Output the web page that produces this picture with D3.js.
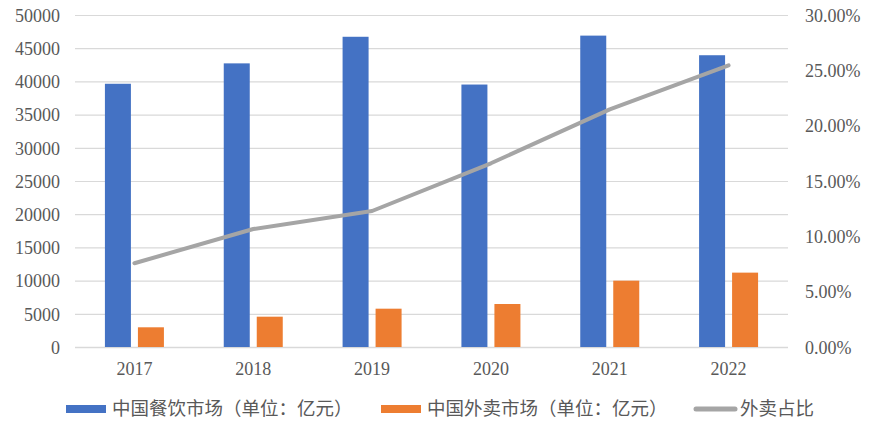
<!DOCTYPE html>
<html>
<head>
<meta charset="utf-8">
<script src="https://cdn.jsdelivr.net/npm/d3@7"></script>
<style>
  body { margin: 0; background: #fff; }
  svg { display: block; }
  .axis text { fill: #595959; font-size: 18px; font-family: "Liberation Serif", "Times New Roman", serif; }
  .legend text { fill: #595959; font-size: 18.5px; font-family: "Noto Sans CJK SC", sans-serif; }
</style>
</head>
<body>
<svg id="chart"></svg>
<script>
const years = ["2017", "2018", "2019", "2020", "2021", "2022"];
const cateringMarket = [39644, 42716, 46721, 39527, 46895, 43941];
const takeoutMarket = [2967, 4565, 5770, 6475, 9990, 11200];
const takeoutShare = [0.0757, 0.1066, 0.1229, 0.1660, 0.2147, 0.2545];
const leftTicks = [0, 5000, 10000, 15000, 20000, 25000, 30000, 35000, 40000, 45000, 50000];
const rightTicks = [0, 0.05, 0.10, 0.15, 0.20, 0.25, 0.30];
const seriesNames = ["中国餐饮市场（单位：亿元）", "中国外卖市场（单位：亿元）", "外卖占比"];

const W = 870, H = 423;
const MARGIN = {top: 15, bottom: 76, left: 75, right: 82};
const WIDTH = W - MARGIN.left - MARGIN.right;
const HEIGHT = H - MARGIN.top - MARGIN.bottom;

const BLUE = "#4472C4", ORANGE = "#ED7D31", GREY = "#A5A5A5", GRID = "#D9D9D9";

const svg = d3.select("#chart").attr("width", W).attr("height", H);
const g = svg.append("g").attr("transform", "translate(" + MARGIN.left + "," + MARGIN.top + ")");

const x = d3.scaleBand().domain(years).range([0, WIDTH]);
const yLeft = d3.scaleLinear().domain([0, 50000]).range([HEIGHT, 0]);
const yRight = d3.scaleLinear().domain([0, 0.30]).range([HEIGHT, 0]);

// gridlines
g.append("g")
  .selectAll("line")
  .data(leftTicks)
  .join("line")
  .attr("x1", 0)
  .attr("x2", WIDTH)
  .attr("y1", d => yLeft(d) + 0.5)
  .attr("y2", d => yLeft(d) + 0.5)
  .style("stroke", GRID)
  .style("stroke-width", d => d === 0 ? 1.5 : 1.2);

// left axis
g.append("g")
  .attr("class", "axis")
  .attr("transform", "translate(-15,0)")
  .call(d3.axisLeft(yLeft).tickValues(leftTicks).tickSize(0).tickPadding(0).tickFormat(d3.format("d")))
  .call(a => a.select(".domain").remove())
  .selectAll("text").attr("dy", "0.35em");

// right axis
g.append("g")
  .attr("class", "axis")
  .attr("transform", "translate(" + (WIDTH + 17) + ",0)")
  .call(d3.axisRight(yRight).tickValues(rightTicks).tickSize(0).tickPadding(0).tickFormat(d3.format(".2%")))
  .call(a => a.select(".domain").remove())
  .selectAll("text").attr("dy", "0.35em");

// x axis labels
g.append("g")
  .attr("class", "axis")
  .attr("transform", "translate(0," + HEIGHT + ")")
  .call(d3.axisBottom(x).tickSize(0).tickPadding(0))
  .call(a => a.select(".domain").remove())
  .selectAll("text").attr("y", 28).attr("dy", null);

// bars
const BAR_W = 26, GAP = 7;
const groupOffset = (x.bandwidth() - (2 * BAR_W + GAP)) / 2;

g.append("g")
  .selectAll("rect")
  .data(cateringMarket)
  .join("rect")
  .attr("x", (d, i) => x(years[i]) + groupOffset)
  .attr("y", d => yLeft(d))
  .attr("width", BAR_W)
  .attr("height", d => HEIGHT - yLeft(d))
  .style("fill", BLUE);

g.append("g")
  .selectAll("rect")
  .data(takeoutMarket)
  .join("rect")
  .attr("x", (d, i) => x(years[i]) + groupOffset + BAR_W + GAP)
  .attr("y", d => yLeft(d))
  .attr("width", BAR_W)
  .attr("height", d => HEIGHT - yLeft(d))
  .style("fill", ORANGE);

// share line
const line = d3.line()
  .x((d, i) => x(years[i]) + x.bandwidth() / 2)
  .y(d => yRight(d));

g.append("path")
  .datum(takeoutShare)
  .attr("d", line)
  .attr("fill", "none")
  .attr("stroke", GREY)
  .attr("stroke-width", 4)
  .attr("stroke-linecap", "round")
  .attr("stroke-linejoin", "round");

// legend
const legend = svg.append("g").attr("class", "legend");
const legendItems = [
  {x: 66, color: BLUE, type: "rect"},
  {x: 381, color: ORANGE, type: "rect"},
  {x: 694, color: GREY, type: "line"}
];
const LEG_Y = 409;
legendItems.forEach((item, i) => {
  if (item.type === "rect") {
    legend.append("rect")
      .attr("x", item.x).attr("y", LEG_Y - 4)
      .attr("width", 40).attr("height", 8)
      .style("fill", item.color);
  } else {
    legend.append("line")
      .attr("x1", item.x + 2).attr("x2", item.x + 41)
      .attr("y1", LEG_Y).attr("y2", LEG_Y)
      .attr("stroke", item.color)
      .attr("stroke-width", 5)
      .attr("stroke-linecap", "round");
  }
  legend.append("text")
    .attr("x", item.x + 46)
    .attr("y", LEG_Y)
    .attr("dy", "0.35em")
    .text(seriesNames[i]);
});
</script>
</body>
</html>
